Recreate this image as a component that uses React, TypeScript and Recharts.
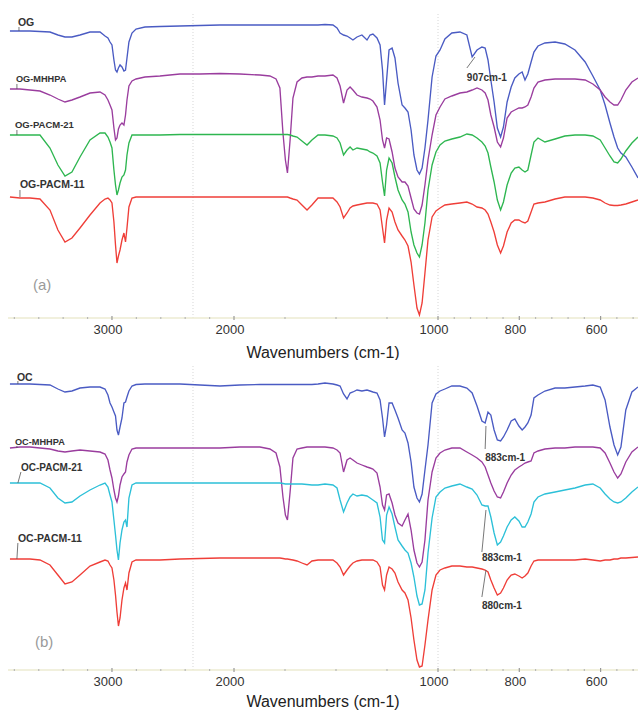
import React from 'react';
import { LineChart, Line, XAxis, YAxis, ReferenceLine, ReferenceDot } from 'recharts';

// Shared wavenumber grid (cm-1)
const WAVENUMBERS = [
  3836, 3754, 3672, 3590, 3508, 3443, 3385, 3328, 3262, 3180,
  3098, 3057, 3033, 3016, 3000, 2984, 2971, 2959, 2947, 2934,
  2918, 2902, 2889, 2877, 2861, 2836, 2803, 2730, 2607, 2443,
  2279, 2115, 1971, 1873, 1824, 1794, 1775, 1760, 1748, 1738,
  1725, 1711, 1691, 1667, 1642, 1618, 1588, 1554, 1515, 1495,
  1480, 1463, 1446, 1431, 1417, 1397, 1373, 1348, 1333, 1319,
  1299, 1284, 1272, 1262, 1252, 1240, 1225, 1211, 1196, 1176,
  1162, 1147, 1132, 1118, 1103, 1091, 1078, 1064, 1049, 1029,
  1010, 995, 983, 966, 946, 929, 916, 904, 892, 884,
  877, 870, 862, 854, 846, 839, 830, 820, 811, 801,
  793, 786, 779, 771, 764, 754, 737, 712, 688, 663,
  638, 619, 601, 589, 577, 567, 558, 550, 538, 523, 508,
];

// Panel (a) – offset transmittance (a.u.)
const OG = [
  287, 287, 287, 286.5, 286, 283, 281, 281, 283, 286,
  286, 282, 280, 276, 273, 258, 248, 246, 250, 253,
  251, 247, 248, 260, 276, 285, 289, 291, 291.5, 292,
  292.5, 293, 293, 293, 293, 293, 293, 293, 293, 293,
  293, 293, 293, 293, 293, 293, 293, 293.5, 293, 290,
  285, 283, 282, 280, 278, 281, 283, 278, 283, 284,
  280, 273, 248, 213, 238, 268, 270, 260, 235, 213,
  210, 206, 188, 163, 148, 144, 150, 170, 198, 241,
  262, 268, 279, 285, 286, 283, 261, 268, 271, 270,
  258, 238, 216, 190, 181, 191, 216, 231, 240, 244,
  246, 238, 244, 256, 266, 272, 275, 276, 274, 268,
  256, 242, 228, 213, 195, 181, 170, 165, 161, 151, 140,
];
const OG_MHHPA = [
  229, 229, 228, 227, 223, 219, 216, 218, 221, 225,
  226, 223, 218, 213, 208, 190, 178, 180, 189, 193,
  195, 193, 203, 218, 232, 237, 239, 241, 242, 244,
  244, 244.5, 244, 243, 242, 239, 230, 185, 158, 145,
  178, 220, 236, 240, 241, 241, 242, 242, 243, 240,
  232, 215, 228, 231, 228, 223, 221, 220, 219, 217,
  211, 198, 178, 170, 180, 179, 166, 150, 141, 136,
  136, 132, 120, 109, 105, 104, 113, 133, 158, 183,
  203, 211, 219, 222, 225, 226, 228, 230, 228, 225,
  218, 203, 191, 176, 171, 180, 200, 206, 208, 210,
  210, 211, 213, 221, 230, 236, 238, 239, 239, 239,
  238, 234, 228, 221, 216, 213, 213, 218, 228, 236, 240,
];
const OG_PACM21 = [
  183, 183, 183, 183, 170, 153, 142, 146, 161, 178,
  185, 185, 181, 176, 170, 148, 133, 123, 128, 135,
  141, 143, 148, 163, 175, 183, 183, 183, 183, 183.5,
  183.5, 183.5, 183.5, 183.5, 183.5, 183.5, 183.5, 183.5, 183.5, 183.5,
  183, 182, 181, 177, 173, 178, 183, 183, 182, 180,
  175, 163, 168, 171, 168, 170, 169, 168, 166, 165,
  162, 155, 136, 122, 148, 160, 155, 141, 128, 118,
  114, 106, 86, 73, 65, 61, 73, 95, 128, 153,
  166, 173, 177, 179, 181, 184, 183, 180, 176, 172,
  165, 151, 136, 118, 108, 116, 133, 145, 150, 151,
  148, 146, 148, 163, 176, 180, 176, 179, 182, 183,
  183, 182, 178, 170, 162, 156, 155, 159, 167, 175, 181,
];
const OG_PACM11 = [
  121, 120, 120, 119, 108, 88, 76, 80, 90, 103,
  115, 119, 120, 118, 115, 96, 73, 55, 62, 68,
  78, 85, 76, 90, 111, 120, 121, 121, 121, 121,
  121, 121, 121, 121, 121, 121, 121, 121, 121, 121,
  120, 119, 118, 113, 108, 113, 120, 120, 120, 116,
  111, 100, 105, 110, 112, 113, 114, 115, 115, 115,
  114, 108, 90, 75, 98, 110, 106, 96, 88, 82,
  78, 72, 56, 33, 10, 3, 15, 45, 78, 101,
  107, 110, 113, 114, 115, 116, 114, 111, 110, 108,
  104, 96, 86, 73, 65, 72, 86, 95, 98, 98,
  96, 95, 97, 106, 114, 115, 116, 119, 121, 121,
  121, 120, 118, 115, 113, 112.5, 112.5, 113, 114, 116, 118,
];

// Panel (b) – offset transmittance (a.u.)
const OC = [
  286, 286, 286, 285.5, 285, 281, 278, 279, 282, 283,
  283, 281, 275, 267, 263, 258, 254, 240, 235, 243,
  252, 267, 268, 273, 279, 284, 285.5, 286, 286, 286,
  285, 284, 285, 285.5, 285.5, 285.5, 285.5, 285.5, 285.5, 285.5,
  285.5, 285.5, 285.5, 285.5, 285.5, 285.5, 286, 287, 286, 285,
  284, 276, 271, 277, 278, 280, 279, 280, 279, 278,
  277, 270, 252, 233, 245, 267, 267, 260, 252, 240,
  237, 227, 208, 183, 172, 168, 176, 200, 225, 267,
  276, 279, 281, 284, 284, 282, 277, 264, 249, 247,
  258, 255, 240, 230, 229, 233, 240, 249, 251, 244,
  240, 243, 247, 255, 272, 275, 279, 282, 282, 283,
  284, 285, 283, 270, 243, 225, 215, 223, 260, 278, 283,
];
const OC_MHHPA = [
  222, 223, 223, 222, 221, 219, 218, 219, 220, 219,
  218, 216, 210, 200, 192, 180, 172, 168, 174, 185,
  193, 196, 198, 208, 215, 221, 222, 222, 222, 222,
  222, 222, 223, 223, 221, 217, 203, 173, 155, 150,
  178, 212, 221, 222, 223, 223, 223, 223, 222, 220,
  217, 198, 210, 212, 210, 207, 205, 203, 202, 201,
  197, 183, 165, 160, 175, 176, 167, 155, 147, 144,
  150, 156, 140, 120, 107, 103, 108, 130, 170, 198,
  212, 217, 220, 222, 222, 218, 215, 212, 208, 203,
  195, 187, 179, 173, 172, 178, 187, 195, 200, 203,
  205, 207, 208, 209, 217, 219, 221, 222, 222, 223,
  223, 223, 222, 217, 207, 198, 192, 196, 208, 218, 223,
];
const OC_PACM21 = [
  187, 187, 187, 187, 182, 172, 167, 168, 174, 180,
  185, 187, 183, 175, 168, 150, 135, 120, 110, 127,
  140, 148, 150, 143, 172, 185, 187, 187, 187, 187,
  187, 187, 187, 187, 187, 187, 187, 186.5, 186, 186,
  186, 186, 186, 186, 185.5, 185, 185, 186, 185, 182,
  170, 158, 167, 173, 176, 174, 175, 174, 172, 170,
  167, 153, 130, 127, 155, 163, 156, 143, 130, 124,
  120, 117, 107, 93, 74, 65, 66, 80, 117, 152,
  173, 178, 182, 184, 186, 183, 181, 175, 165, 164,
  164, 153, 137, 125, 128, 134, 143, 150, 153, 149,
  143, 143, 148, 156, 168, 173, 176, 178, 180, 182,
  185, 186, 182, 176, 171, 168, 167, 168, 172, 178, 183,
];
const OC_PACM11 = [
  111, 111, 111, 110, 105, 95, 86, 88, 95, 104,
  108, 110, 109, 105, 102, 90, 75, 58, 44, 52,
  70, 82, 87, 80, 97, 108, 110, 110, 110, 111,
  111.5, 112, 112, 112, 112, 112, 112, 111.5, 111, 111,
  110.5, 110, 109, 107, 105, 109, 110, 110, 110, 107,
  103, 95, 100, 104, 107, 109, 110, 110, 110, 110,
  108, 103, 85, 80, 95, 103, 101, 97, 88, 80,
  77, 70, 52, 30, 10, 3, 4, 25, 50, 80,
  95, 100, 102, 104, 104, 103, 103, 102, 101, 100,
  98, 90, 82, 75, 77, 82, 90, 95, 96, 94,
  92, 94, 97, 104, 109, 110, 110, 110, 110, 110,
  111, 110, 109, 110, 110, 111, 111, 112, 112, 112.5, 113,
];

const MAJOR_TICKS = [3000, 2000, 1000, 800, 600];
const MINOR_TICKS = [3800, 3600, 3400, 3200, 2800, 2600, 2400, 2200, 1750, 1500, 1250,
  960, 920, 880, 840, 760, 720, 680, 640, 560, 520];
const GRID_LINES = [2336, 1000];

// Broken (piecewise) wavenumber axis: [wavenumber, axis position]
const AXIS_BREAKS: [number, number][] = [[3852, 0], [2000, 226], [1000, 430], [508, 630]];

function toPos(wn: number): number {
  for (let i = 0; i < AXIS_BREAKS.length - 1; i++) {
    const [w0, p0] = AXIS_BREAKS[i];
    const [w1, p1] = AXIS_BREAKS[i + 1];
    if (wn >= w1 || i === AXIS_BREAKS.length - 2) {
      return p0 + ((w0 - wn) * (p1 - p0)) / (w0 - w1);
    }
  }
  return 0;
}

const ALL_TICKS = [...MAJOR_TICKS, ...MINOR_TICKS].sort((a, b) => b - a);
const TICK_POS = ALL_TICKS.map(toPos);
const TICK_LOOKUP = new Map(ALL_TICKS.map((w) => [toPos(w).toFixed(3), w]));

const COLORS = {
  blue: '#4a5bc3',
  purple: '#9a3d9e',
  green: '#2eb650',
  red: '#ef3e38',
  cyan: '#2cc0d8',
};

type Lbl = { text: string; wn: number; v: number; size: number; leader: [number, number][] };
type Ann = { text: string; wn: number; v: number; leader: [number, number][] };

const PANEL_A = {
  tag: '(a)', tagAt: [3648, 33] as [number, number], top: 0,
  yMax: 318, height: 360, axisHeight: 42, gridTop: 306, titleOffset: 2,
  series: [
    { key: 'og', values: OG, color: COLORS.blue },
    { key: 'ogm', values: OG_MHHPA, color: COLORS.purple },
    { key: 'og21', values: OG_PACM21, color: COLORS.green },
    { key: 'og11', values: OG_PACM11, color: COLORS.red },
  ],
  labels: [
    { text: 'OG', wn: 3771, v: 296, size: 10.5, leader: [[3762, 291], [3762, 287]] },
    { text: 'OG-MHHPA', wn: 3787, v: 239, size: 9.2, leader: [[3779, 234], [3779, 229]] },
    { text: 'OG-PACM-21', wn: 3795, v: 193, size: 9.5, leader: [[3779, 188], [3779, 183]] },
    { text: 'OG-PACM-11', wn: 3754, v: 134, size: 10.5, leader: [[3754, 128], [3754, 121]] },
  ] as Lbl[],
  annotations: [
    { text: '907cm-1', wn: 929, v: 241, leader: [[909, 261], [929, 250]] },
  ] as Ann[],
};

const PANEL_B = {
  tag: '(b)', tagAt: [3631, 28] as [number, number], top: 360,
  yMax: 310, height: 351, axisHeight: 41, gridTop: 305, titleOffset: 4,
  series: [
    { key: 'oc', values: OC, color: COLORS.blue },
    { key: 'ocm', values: OC_MHHPA, color: COLORS.purple },
    { key: 'oc21', values: OC_PACM21, color: COLORS.cyan },
    { key: 'oc11', values: OC_PACM11, color: COLORS.red },
  ],
  labels: [
    { text: 'OC', wn: 3779, v: 293, size: 10.5, leader: [[3771, 289], [3771, 286]] },
    { text: 'OC-MHHPA', wn: 3795, v: 228, size: 9.2, leader: [[3779, 224], [3779, 222]] },
    { text: 'OC-PACM-21', wn: 3746, v: 203, size: 10, leader: [[3746, 198], [3771, 187]] },
    { text: 'OC-PACM-11', wn: 3771, v: 132, size: 10.5, leader: [[3771, 127], [3779, 111]] },
  ] as Lbl[],
  annotations: [
    { text: '883cm-1', wn: 884, v: 213, leader: [[882, 244], [884, 221]] },
    { text: '883cm-1', wn: 892, v: 113, leader: [[882, 160], [892, 118]] },
    { text: '880cm-1', wn: 892, v: 65, leader: [[882, 100], [892, 73]] },
  ] as Ann[],
};

const AxisTick = (props: any) => {
  const { x, y, payload } = props;
  const wn = TICK_LOOKUP.get(Number(payload.value).toFixed(3));
  const major = wn !== undefined && MAJOR_TICKS.includes(wn);
  return (
    <g>
      <line x1={x} x2={x} y1={y - (major ? 2 : 1)} y2={y + (major ? 2 : 1)}
        stroke={major ? '#999' : '#b8b8b8'} strokeWidth={1.2} />
      {major && (
        <text x={x - 4} y={y + 15.5} textAnchor="middle" fontSize={13} fill="#333">
          {wn}
        </text>
      )}
    </g>
  );
};

function Panel({ cfg }: { cfg: typeof PANEL_A }) {
  const data = WAVENUMBERS.map((wn, i) => {
    const row: Record<string, number> = { pos: toPos(wn), wn };
    cfg.series.forEach((s) => { row[s.key] = s.values[i]; });
    return row;
  });
  return (
    <div style={{ position: 'absolute', left: 0, top: cfg.top, width: 638, height: cfg.height }}>
      <LineChart width={638} height={cfg.height} data={data}
        margin={{ top: 0, right: 0, bottom: 0, left: 8 }}>
        <XAxis dataKey="pos" type="number" domain={[0, 630]} ticks={TICK_POS} interval={0}
          allowDataOverflow tick={<AxisTick />} tickLine={false} tickSize={0} tickMargin={0}
          axisLine={{ stroke: '#ecebd2', strokeWidth: 1.5 }} height={cfg.axisHeight}
          label={{ value: 'Wavenumbers (cm-1)', position: 'insideBottom', offset: cfg.titleOffset, fill: '#222', fontSize: 16 }} />
        <YAxis hide domain={[0, cfg.yMax]} type="number" allowDataOverflow />
        {GRID_LINES.map((g) => (
          <ReferenceLine key={g} segment={[{ x: toPos(g), y: 0 }, { x: toPos(g), y: cfg.gridTop }]}
            stroke="#d6d6d6" strokeDasharray="1 2" />
        ))}
        {cfg.series.map((s) => (
          <Line key={s.key} dataKey={s.key} type="linear" stroke={s.color} strokeWidth={1.35}
            dot={false} activeDot={false} isAnimationActive={false} />
        ))}
        {cfg.labels.map((l) => (
          <ReferenceLine key={'ll' + l.text} segment={l.leader.map(([w, v]) => ({ x: toPos(w), y: v }))}
            stroke="#555" strokeWidth={0.8} />
        ))}
        {cfg.labels.map((l) => (
          <ReferenceDot key={'l' + l.text} x={toPos(l.wn)} y={l.v} r={0} fill="none" stroke="none"
            label={{ value: l.text, position: 'right', offset: 0, fill: '#333', fontSize: l.size, fontWeight: 700 }} />
        ))}
        {cfg.annotations.map((a, i) => (
          <ReferenceLine key={'al' + i} segment={a.leader.map(([w, v]) => ({ x: toPos(w), y: v }))}
            stroke="#555" strokeWidth={0.8} />
        ))}
        {cfg.annotations.map((a, i) => (
          <ReferenceDot key={'a' + i} x={toPos(a.wn)} y={a.v} r={0} fill="none" stroke="none"
            label={{ value: a.text, position: 'right', offset: 0, fill: '#333', fontSize: 10, fontWeight: 700 }} />
        ))}
        <ReferenceDot x={toPos(cfg.tagAt[0])} y={cfg.tagAt[1]} r={0} fill="none" stroke="none"
          label={{ value: cfg.tag, position: 'right', offset: 0, fill: '#9a9a9a', fontSize: 15 }} />
      </LineChart>
    </div>
  );
}

export default function App() {
  return (
    <div style={{ position: 'fixed', left: 0, top: 0, width: 638, height: 711, background: '#fff',
      overflow: 'hidden', fontFamily: '"Liberation Sans", Arial, sans-serif' }}>
      <Panel cfg={PANEL_A} />
      <Panel cfg={PANEL_B} />
    </div>
  );
}
